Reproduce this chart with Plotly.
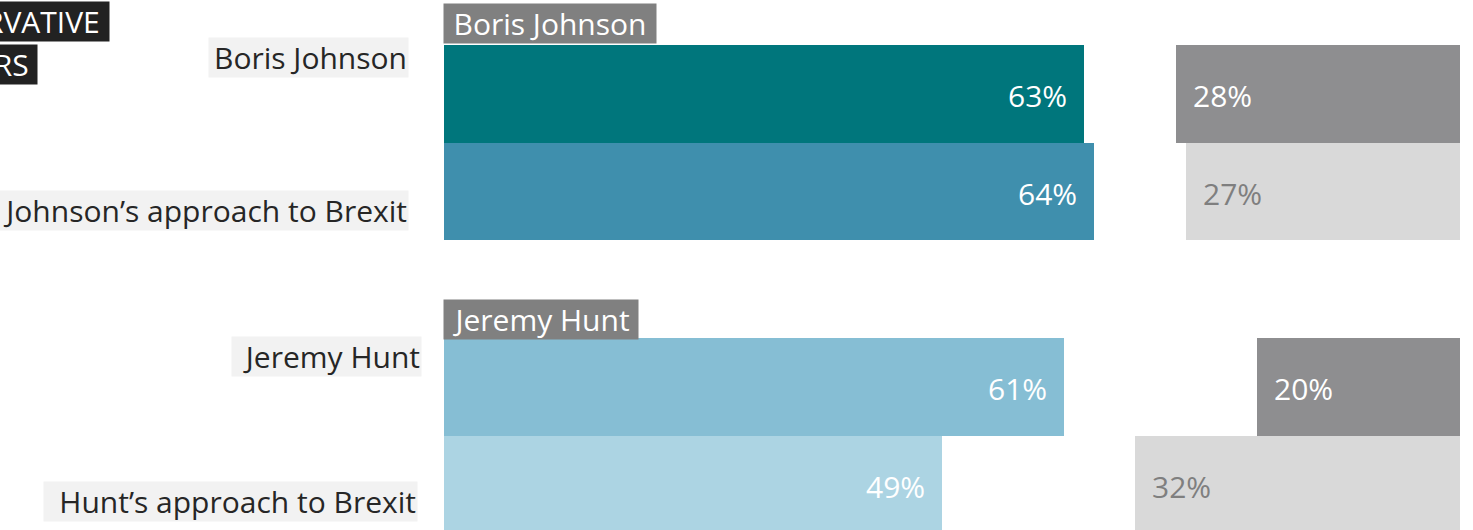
import plotly.graph_objects as go

# Survey results: share of Conservative members with a favourable / unfavourable view
categories = ["Boris Johnson", "Johnson’s approach to Brexit",
              "Jeremy Hunt", "Hunt’s approach to Brexit"]
favourable = [63, 64, 61, 49]
unfavourable = [28, 27, 20, 32]
slots = [0, 1, 3, 4]               # vertical slot of each row (slot 2 is the gap)
group_titles = ["Boris Johnson", "Jeremy Hunt"]
group_title_slots = [0, 3]
header_lines = ["CONSERVATIVE", "MEMBERS"]

fav_colors = ["#00767c", "#3f8fad", "#86bed4", "#acd4e3"]
unfav_colors = ["#8e8e90", "#d9d9d9", "#8e8e90", "#d9d9d9"]
unfav_text = ["#ffffff", "#7f7f7f", "#ffffff", "#7f7f7f"]

FONT = "Open Sans"
SIZE = 30
BOX_H = 37

fig = go.Figure()
fig.add_trace(go.Bar(
    y=slots, x=favourable, base=0, orientation="h", width=1.0,
    marker=dict(color=fav_colors, line=dict(width=0)),
    hoverinfo="skip", showlegend=False,
))
fig.add_trace(go.Bar(
    y=slots, x=unfavourable, base=[100 - v for v in unfavourable],
    orientation="h", width=1.0,
    marker=dict(color=unfav_colors, line=dict(width=0)),
    hoverinfo="skip", showlegend=False,
))

annotations = []
# value labels inside the bars
for s, v in zip(slots, favourable):
    annotations.append(dict(
        x=v, y=s, xref="x", yref="y", text=f"{v}%", showarrow=False,
        xanchor="right", yanchor="middle", xshift=-15, yshift=-2,
        font=dict(family=FONT, size=SIZE, color="#ffffff"),
    ))
for s, v, c in zip(slots, unfavourable, unfav_text):
    annotations.append(dict(
        x=100 - v, y=s, xref="x", yref="y", text=f"{v}%", showarrow=False,
        xanchor="left", yanchor="middle", xshift=15, yshift=-2,
        font=dict(family=FONT, size=SIZE, color=c),
    ))

# row labels on the left, each on a light grey box
label_right = [-35, -35, -22, -26]      # box right edge, px from the plot's left edge
label_width = [197, 440, 187, 371]
label_shift_y = [36, -19, 30, -17]
for s, name, dx, w, dy in zip(slots, categories, label_right, label_width, label_shift_y):
    annotations.append(dict(
        x=0, y=s, xref="paper", yref="y", text=name, showarrow=False,
        xanchor="right", yanchor="middle", xshift=dx, yshift=dy,
        width=w, height=BOX_H, align="right", valign="middle",
        bgcolor="#f2f2f2", borderpad=1,
        font=dict(family=FONT, size=SIZE, color="#262626"),
    ))

# group headers above each pair of bars
title_width = [210, 192]
title_shift_y = [1, -2]
for s, title, w, dy in zip(group_title_slots, group_titles, title_width, title_shift_y):
    annotations.append(dict(
        x=0, y=s - 0.5, xref="paper", yref="y", text=title, showarrow=False,
        xanchor="left", yanchor="bottom", xshift=-1, yshift=dy,
        width=w, height=BOX_H, align="center", valign="middle",
        bgcolor="#808080", borderpad=1,
        font=dict(family=FONT, size=SIZE, color="#ffffff"),
    ))

# heading block in the top-left corner, running off the left edge
header_right = [-334, -406]
header_shift_y = [-1, -44]
for line, dx, dy in zip(header_lines, header_right, header_shift_y):
    annotations.append(dict(
        x=0, y=1, xref="paper", yref="paper", text=line + " ", showarrow=False,
        xanchor="right", yanchor="top", xshift=dx, yshift=dy,
        height=BOX_H, valign="middle",
        bgcolor="#222222", borderpad=1,
        font=dict(family=FONT, size=SIZE, color="#ffffff"),
    ))

fig.update_layout(
    width=1473, height=530,
    margin=dict(l=444, r=13, t=0, b=0),
    paper_bgcolor="#ffffff", plot_bgcolor="#ffffff",
    barmode="overlay", bargap=0,
    xaxis=dict(range=[0, 100], visible=False, fixedrange=True),
    yaxis=dict(range=[4.465, -0.96], visible=False, fixedrange=True),
    annotations=annotations,
    font=dict(family=FONT),
)

fig.write_html("out.html", config={"displayModeBar": False})
